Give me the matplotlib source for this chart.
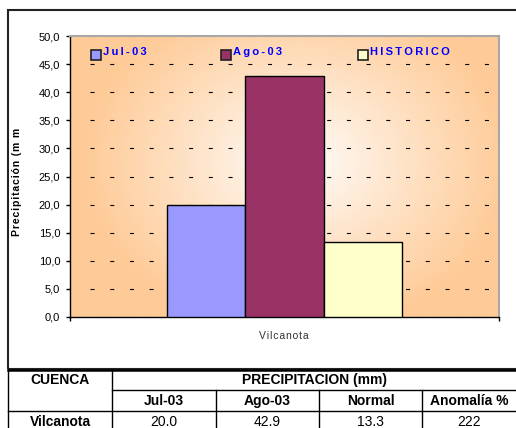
import numpy as np
import matplotlib
matplotlib.use('Agg')
import matplotlib.pyplot as plt
from matplotlib.patches import Rectangle
from matplotlib.lines import Line2D

plt.rcParams['font.family'] = ['Liberation Sans', 'DejaVu Sans']
plt.rcParams['lines.scale_dashes'] = False

# data
cuencas = ['Vilcanota']
jul_03 = [20.0]
ago_03 = [42.9]
historico = [13.3]
anomalia = [222]
series_names = ['Jul-03', 'Ago-03', 'HISTORICO']
series_colors = ['#9999FF', '#993366', '#FFFFCC']
yticks = [0, 5, 10, 15, 20, 25, 30, 35, 40, 45, 50]
table_head1 = ['CUENCA', 'PRECIPITACION (mm)']
table_head2 = ['Jul-03', 'Ago-03', 'Normal', 'Anomalía %']

W, H = 516, 428
TFS = 10  # table font size


def fx(x):
    return x / W


def fy(y):
    return 1 - y / H


def spaced(s, sep='\u2009'):
    return sep.join(s)


fig = plt.figure(figsize=(W / 100, H / 100), dpi=100)

# outer chart frame
fig.add_artist(Rectangle((fx(8), fy(369)), fx(520) - fx(8), fy(10) - fy(369),
                         transform=fig.transFigure, fill=False,
                         edgecolor='#222222', linewidth=1.5))

ax = fig.add_axes([fx(70), fy(317), (499 - 70) / W, (317 - 36) / H])

# radial orange -> white background
gx, gy = np.meshgrid(np.linspace(0, 1, 300), np.linspace(0, 1, 300))
t = np.sqrt(((gx - 0.53) / 0.5) ** 2 + ((gy - 0.55) / 0.6) ** 2)
t = np.clip(t, 0, 1) ** 0.9
orange = np.array([254, 203, 152]) / 255.0
img = 1 - t[..., None] * (1 - orange)
ax.imshow(img, extent=(0, 1, 0, 1), transform=ax.transAxes, origin='lower',
          aspect='auto', zorder=0, interpolation='bilinear')

# dashed gridlines
for v in yticks[1:]:
    ax.axhline(v, xmin=20 / 429, xmax=1, color='#777777' if v == 50 else 'black',
               linewidth=0.8, linestyle=(0, (2.9, 11.3)), zorder=1)

x = np.arange(len(cuencas))
w = 0.182
for i, (vals, col) in enumerate(zip([jul_03, ago_03, historico], series_colors)):
    ax.bar(x + (i - 1) * w, vals, width=w, color=col, edgecolor='black',
           linewidth=1.0, zorder=3)

ax.set_xlim(-0.5, 0.5)
ax.set_ylim(0, 50)
ax.set_yticks(yticks)
ax.set_yticklabels([f'{v:.1f}'.replace('.', ',') for v in yticks], fontsize=8)
ax.set_xticks([-0.5, 0.5])
ax.set_xticklabels([])
ax.tick_params(axis='both', direction='out', length=3, width=1, color='black', pad=4)
for s in ['top', 'right']:
    ax.spines[s].set_color('#a8a8a8')
    ax.spines[s].set_linewidth(1.5)
for s in ['left', 'bottom']:
    ax.spines[s].set_color('black')
    ax.spines[s].set_linewidth(1.0)

# category label
fig.text(fx(284), fy(336), spaced(cuencas[0], '\u200a'), ha='center', va='center',
         fontsize=7.5, color='#333333')

# y label
fig.text(fx(17), fy(182), spaced('Precipitación (m m', '\u200a'), rotation=90,
         ha='center', va='center', fontsize=7.5, fontweight='bold')

# legend
leg_x = [91, 221, 358]
for lx, name, col in zip(leg_x, series_names, series_colors):
    fig.add_artist(Rectangle((fx(lx), fy(60)), 10 / W, 10 / H, transform=fig.transFigure,
                             facecolor=col, edgecolor='#222222', linewidth=1.2))
    fig.text(fx(lx + 12), fy(52), spaced(name), ha='left', va='center',
             fontsize=8, fontweight='bold', color='#0000FF')

# table below chart
def hline(y, x0, x1, lw=1.0):
    fig.add_artist(Line2D([fx(x0), fx(x1)], [fy(y), fy(y)], transform=fig.transFigure,
                          color='black', linewidth=lw))


def vline(x_, y0, y1, lw=1.0):
    fig.add_artist(Line2D([fx(x_), fx(x_)], [fy(y0), fy(y1)], transform=fig.transFigure,
                          color='black', linewidth=lw))


col_edges = [8, 112, 216, 319, 422, 520]
hline(370, 8, 516, lw=1.8)
hline(390, 112, 516)
hline(411, 8, 516)
vline(8, 369, 430)
vline(112, 370, 430)
for ce in col_edges[2:5]:
    vline(ce, 390, 430)

fig.text(fx(60), fy(380), table_head1[0], ha='center', va='center', fontsize=TFS,
         fontweight='bold')
fig.text(fx(314), fy(380), table_head1[1], ha='center', va='center', fontsize=TFS,
         fontweight='bold')
for i, lab in enumerate(table_head2):
    cx = (col_edges[i + 1] + min(col_edges[i + 2], 516)) / 2
    fig.text(fx(cx), fy(401), lab, ha='center', va='center', fontsize=TFS,
             fontweight='bold')

row = [f'{jul_03[0]:.1f}', f'{ago_03[0]:.1f}', f'{historico[0]:.1f}', f'{anomalia[0]}']
fig.text(fx(60), fy(422), cuencas[0], ha='center', va='center', fontsize=TFS,
         fontweight='bold')
for i, val in enumerate(row):
    cx = (col_edges[i + 1] + min(col_edges[i + 2], 516)) / 2
    fig.text(fx(cx), fy(422), val, ha='center', va='center', fontsize=TFS)

fig.savefig('out.png', dpi=100)
